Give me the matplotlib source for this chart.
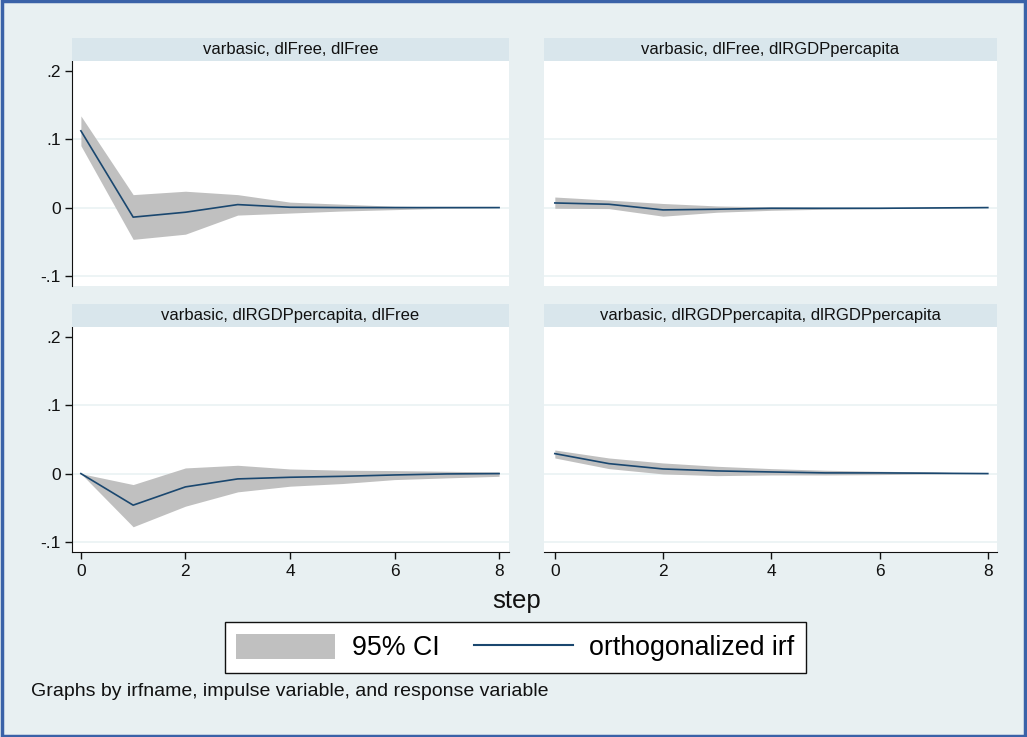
import numpy as np
import matplotlib
matplotlib.use("Agg")
import matplotlib.pyplot as plt
from matplotlib.patches import Rectangle, Patch
from matplotlib.lines import Line2D

plt.rcParams['font.family'] = ['Liberation Sans', 'DejaVu Sans']

steps = [0, 1, 2, 3, 4, 5, 6, 7, 8]

titles = ["varbasic, dlFree, dlFree",
          "varbasic, dlFree, dlRGDPpercapita",
          "varbasic, dlRGDPpercapita, dlFree",
          "varbasic, dlRGDPpercapita, dlRGDPpercapita"]

# orthogonalized irf and 95% CI, one list per panel
irf_ff = [0.1126, -0.0140, -0.0068, 0.0044, 0.0005, 0.0000, 0.0000, 0.0000, 0.0000]
lo_ff = [0.0908, -0.0466, -0.0390, -0.0110, -0.0080, -0.0050, -0.0030, -0.0010, 0.0000]
hi_ff = [0.1345, 0.0190, 0.0240, 0.0190, 0.0080, 0.0050, 0.0020, 0.0010, 0.0000]

irf_fg = [0.0068, 0.0049, -0.0034, -0.0024, -0.0010, -0.0010, -0.0010, -0.0005, 0.0000]
lo_fg = [-0.0010, -0.0015, -0.0126, -0.0068, -0.0040, -0.0024, -0.0015, -0.0008, 0.0000]
hi_fg = [0.0155, 0.0110, 0.0060, 0.0024, 0.0010, 0.0000, 0.0000, 0.0000, 0.0000]

irf_gf = [0.0000, -0.0463, -0.0195, -0.0078, -0.0054, -0.0040, -0.0020, -0.0005, 0.0000]
lo_gf = [0.0000, -0.0780, -0.0478, -0.0268, -0.0185, -0.0146, -0.0088, -0.0063, -0.0040]
hi_gf = [0.0000, -0.0161, 0.0083, 0.0122, 0.0068, 0.0050, 0.0044, 0.0034, 0.0024]

irf_gg = [0.0293, 0.0146, 0.0068, 0.0039, 0.0024, 0.0010, 0.0010, 0.0005, 0.0000]
lo_gg = [0.0229, 0.0073, -0.0005, -0.0030, -0.0020, -0.0020, -0.0015, -0.0005, 0.0000]
hi_gg = [0.0346, 0.0229, 0.0156, 0.0107, 0.0073, 0.0049, 0.0034, 0.0024, 0.0000]

panels = [(irf_ff, lo_ff, hi_ff), (irf_fg, lo_fg, hi_fg),
          (irf_gf, lo_gf, hi_gf), (irf_gg, lo_gg, hi_gg)]

yticks = [-0.1, 0, 0.1, 0.2]
ytick_labels = ['-.1', '0', '.1', '.2']
xticks = [0, 2, 4, 6, 8]

bg = '#E8F0F2'
strip = '#D9E6EC'
navy = '#1A476F'
ci_gray = '#C0C0C0'

W, H = 1027, 737
fig = plt.figure(figsize=(W / 100, H / 100), dpi=100, facecolor=bg)

# pixel boxes: left, top, width, height
boxes = [(72, 61, 437, 225), (544, 61, 453, 225),
         (72, 327, 437, 225), (544, 327, 453, 225)]
xlims = [(-0.17, 8.19), (-0.2, 8.17), (-0.17, 8.19), (-0.2, 8.17)]

for i, (irf, lo, hi) in enumerate(panels):
    l, t, w, h = boxes[i]
    ax = fig.add_axes([l / W, 1 - (t + h) / H, w / W, h / H])
    ax.set_facecolor('white')
    ax.fill_between(steps, lo, hi, color=ci_gray, lw=0, zorder=2)
    ax.plot(steps, irf, color=navy, lw=1.2, zorder=3)
    for g in [-0.1, 0, 0.1]:
        ax.axhline(g, color='#EAF2F3', lw=1.2, zorder=1)
    ax.set_xlim(*xlims[i])
    ax.set_ylim(-0.115, 0.215)
    for s in ax.spines.values():
        s.set_visible(False)
    left = i % 2 == 0
    bottom = i >= 2
    if left:
        ax.spines['left'].set_visible(True)
        ax.spines['left'].set_color('#111111')
        ax.set_yticks(yticks)
        ax.set_yticklabels(ytick_labels)
        ax.tick_params(axis='y', direction='out', length=5, width=1,
                       pad=3, labelsize=12.5, colors='#111111')
    else:
        ax.set_yticks([])
    if bottom:
        ax.spines['bottom'].set_visible(True)
        ax.spines['bottom'].set_color('#111111')
        ax.set_xticks(xticks)
        ax.tick_params(axis='x', direction='out', length=5, width=1,
                       pad=4, labelsize=12.5, colors='#111111')
    else:
        ax.set_xticks([])
    # strip header
    fig.patches.append(Rectangle((l / W, 1 - t / H), w / W, 23 / H,
                                 transform=fig.transFigure, facecolor=strip,
                                 edgecolor='none', zorder=0))
    fig.text((l + w / 2) / W, 1 - (t - 11.5) / H, titles[i], ha='center',
             va='center', fontsize=12, color='#111111')

fig.text(517 / W, 1 - 601 / H, 'step', ha='center', va='center',
         fontsize=18.5, color='#111111')

handles = [Patch(facecolor=ci_gray, edgecolor='none'),
           Line2D([], [], color=navy, lw=1.5)]
leg = fig.legend(handles, ['95% CI', 'orthogonalized irf'], ncol=2,
                 loc='center', bbox_to_anchor=(515.5 / W, 1 - 647.5 / H),
                 fontsize=19.3, frameon=True, fancybox=False, framealpha=1,
                 edgecolor='#111111', handlelength=3.7, handleheight=1.05,
                 handletextpad=0.6, columnspacing=1.3, borderpad=0.42)
leg.get_frame().set_linewidth(1.0)

fig.text(31 / W, 1 - 692 / H,
         'Graphs by irfname, impulse variable, and response variable',
         ha='left', va='center', fontsize=14, color='#111111')

fig.patches.append(Rectangle((0.0015, 0.002), 0.997, 0.996,
                             transform=fig.transFigure, facecolor='none',
                             edgecolor='#3A62A8', lw=2.5, zorder=10))

fig.savefig('out.png', dpi=100, facecolor=bg)
